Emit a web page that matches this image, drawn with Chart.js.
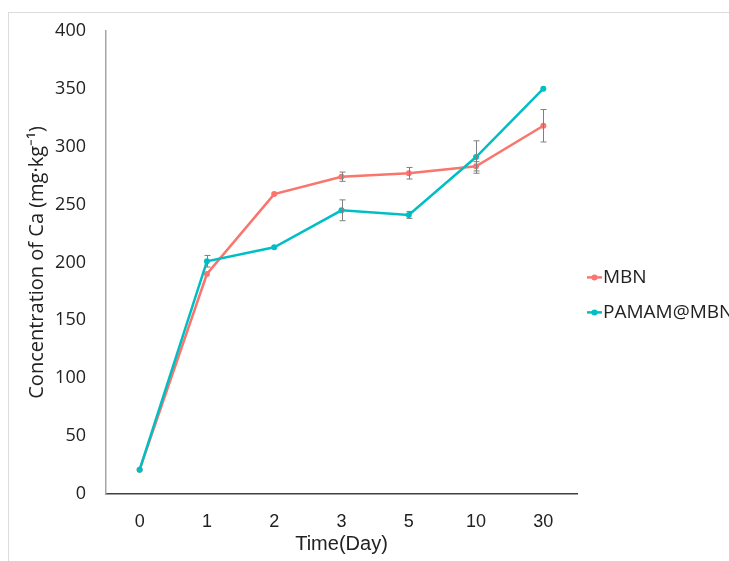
<!DOCTYPE html>
<html>
<head>
<meta charset="utf-8">
<script src="https://cdn.jsdelivr.net/npm/chart.js@4/dist/chart.umd.min.js"></script>
<style>
  html, body { margin: 0; padding: 0; background: #fff; }
  #wrap { position: relative; width: 729px; height: 561px; overflow: hidden; }
  #frame { position: absolute; left: 8px; top: 12px; width: 800px; height: 600px;
           border-left: 1px solid #dcdcdc; border-top: 1px solid #dcdcdc; }
  canvas { position: absolute; left: 0; top: 0; }
</style>
</head>
<body>
<div id="wrap">
  <div id="frame"></div>
  <canvas id="c" width="729" height="561"></canvas>
</div>
<script>
const categories = ['0', '1', '2', '3', '5', '10', '30'];
const mbnValues = [21, 190, 259, 274, 277, 283, 318];
const pamamValues = [21, 201, 213, 245, 241, 291, 350];
const mbnErrors = [0, 0, 0, 4, 5, 4, 14];
const pamamErrors = [0, 5, 0, 9, 3, 14, 0];
const yTicks = [0, 50, 100, 150, 200, 250, 300, 350, 400];
const seriesNames = ['MBN', 'PAMAM@MBN'];

const RED = '#F8766D';
const CYAN = '#00BFC4';

const errorBarPlugin = {
  id: 'errorBars',
  afterDatasetsDraw(chart) {
    const ctx = chart.ctx;
    const x = chart.scales.x, y = chart.scales.y;
    ctx.save();
    ctx.strokeStyle = '#7f7f7f';
    ctx.lineWidth = 1;
    chart.data.datasets.forEach(ds => {
      ds.errors.forEach((e, i) => {
        if (!e) return;
        const px = Math.round(x.getPixelForValue(i)) + 0.5;
        const top = y.getPixelForValue(ds.data[i] + e);
        const bot = y.getPixelForValue(ds.data[i] - e);
        ctx.beginPath();
        ctx.moveTo(px, top); ctx.lineTo(px, bot);
        ctx.moveTo(px - 3, top); ctx.lineTo(px + 3, top);
        ctx.moveTo(px - 3, bot); ctx.lineTo(px + 3, bot);
        ctx.stroke();
      });
    });
    ctx.restore();
  }
};

const legendPlugin = {
  id: 'customLegend',
  afterDraw(chart) {
    const ctx = chart.ctx;
    const area = chart.chartArea;
    const lx = area.right + 10;
    const midY = (area.top + area.bottom) / 2;
    const rows = [midY + 15, midY + 50];
    ctx.save();
    ctx.font = '19px "Open Sans", sans-serif';
    ctx.textBaseline = 'middle';
    chart.data.datasets.forEach((ds, k) => {
      const yy = rows[k];
      ctx.strokeStyle = ds.borderColor;
      ctx.lineWidth = 2.5;
      ctx.beginPath(); ctx.moveTo(lx, yy); ctx.lineTo(lx + 15, yy); ctx.stroke();
      ctx.fillStyle = ds.borderColor;
      ctx.beginPath(); ctx.arc(lx + 7.5, yy, 3, 0, Math.PI * 2); ctx.fill();
      ctx.fillStyle = '#222';
      ctx.fillText(ds.label, lx + 16, yy);
    });
    ctx.restore();
  }
};

new Chart(document.getElementById('c'), {
  type: 'line',
  data: {
    labels: categories,
    datasets: [
      { label: seriesNames[0], data: mbnValues, errors: mbnErrors, borderColor: RED, backgroundColor: RED,
        borderWidth: 2.5, pointRadius: 3, pointBackgroundColor: RED, pointBorderWidth: 0, tension: 0, order: 2 },
      { label: seriesNames[1], data: pamamValues, errors: pamamErrors, borderColor: CYAN, backgroundColor: CYAN,
        borderWidth: 2.5, pointRadius: 3, pointBackgroundColor: CYAN, pointBorderWidth: 0, tension: 0, order: 1 }
    ]
  },
  options: {
    responsive: false,
    animation: false,
    layout: { padding: { left: 25, right: 152, top: 28, bottom: 5 } },
    plugins: { legend: { display: false }, tooltip: { enabled: false } },
    scales: {
      x: {
        offset: true,
        grid: { display: false, drawTicks: false },
        border: { display: true, color: '#404040', width: 1.5 },
        ticks: { color: '#222', padding: 17, font: { family: '"Liberation Sans Narrow", "Liberation Sans", sans-serif', size: 18 } },
        title: { display: true, text: 'Time(Day)', color: '#222', padding: 0,
                 font: { family: '"Liberation Sans Narrow", "Liberation Sans", sans-serif', size: 20 } },
        afterFit(s) { s.height = 62; }
      },
      y: {
        min: 0, max: 400,
        afterBuildTicks(s) { s.ticks = yTicks.map(v => ({ value: v })); },
        grid: { display: false, drawTicks: false },
        border: { display: true, color: '#a6a6a6', width: 1.5 },
        ticks: { color: '#222', padding: 20, font: { family: '"Open Sans", sans-serif', size: 18 } },
        title: { display: true, text: 'Concentration of Ca (mg·kg⁻¹)', color: '#222', padding: 0,
                 font: { family: '"Open Sans", sans-serif', size: 20 } },
        afterFit(s) { s.width = 81; }
      }
    }
  },
  plugins: [errorBarPlugin, legendPlugin]
});
</script>
</body>
</html>
